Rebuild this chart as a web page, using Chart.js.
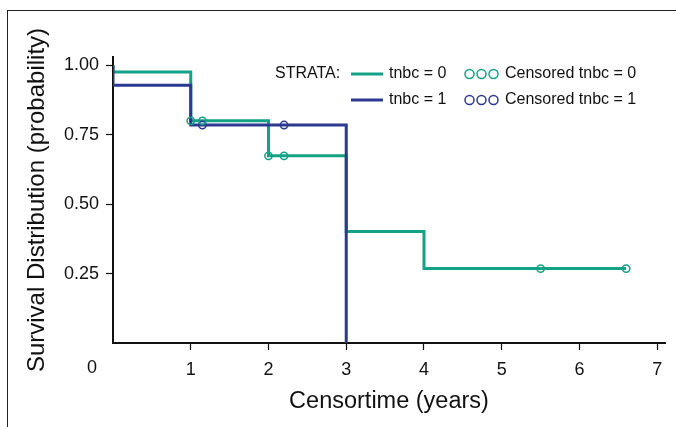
<!DOCTYPE html>
<html>
<head>
<meta charset="utf-8">
<script src="https://cdn.jsdelivr.net/npm/chart.js@4.4.1/dist/chart.umd.min.js"></script>
<style>
  body { margin: 0; background: #fff; }
  #wrap { position: relative; width: 676px; height: 427px; overflow: hidden; }
  #frame { position: absolute; left: 7px; top: 10px; width: 720px; height: 460px;
           border-top: 1.5px solid #222; border-left: 1.5px solid #222; pointer-events: none; }
</style>
</head>
<body>
<div id="wrap">
  <canvas id="km" width="676" height="427"></canvas>
  <div id="frame"></div>
</div>
<script>
// KM step curves
var time0 = [0, 0, 1, 2, 3, 4, 6.6];
var surv0 = [1, 0.976, 0.80, 0.674, 0.402, 0.268, 0.268];
var time1 = [0, 0, 1, 3];
var surv1 = [1, 0.928, 0.785, 0];

// censored marks
var cens0Time = [1.0, 1.15, 2.0, 2.2, 5.5, 6.6];
var cens0Surv = [0.80, 0.80, 0.674, 0.674, 0.268, 0.268];
var cens1Time = [1.15, 2.2];
var cens1Surv = [0.785, 0.785];

var xTicks = [0, 1, 2, 3, 4, 5, 6, 7];
var yTicks = [0.25, 0.50, 0.75, 1.00];
var strata = ["tnbc = 0", "tnbc = 1"];

var green = '#13a286';
var blue = '#2b3990';

function pts(xs, ys) {
  return xs.map(function (x, i) { return { x: x, y: ys[i] }; });
}

// custom legend + the odd "0" label left of the axis
var extras = {
  id: 'extras',
  afterDraw: function (chart) {
    var ctx = chart.ctx;
    var xs = chart.scales.x;
    ctx.save();
    // "0" tick label
    ctx.font = '18px "Liberation Sans"';
    ctx.fillStyle = '#111';
    ctx.textAlign = 'center';
    ctx.textBaseline = 'top';
    ctx.fillText('0', xs.getPixelForValue(0) - 21, xs.top + 7 + 9);

    // legend
    var cols = [green, blue];
    var rows = [74, 100];
    ctx.font = '16px "Liberation Sans"';
    ctx.textBaseline = 'middle';
    ctx.textAlign = 'left';
    ctx.fillText('STRATA:', 275, rows[0]);
    for (var i = 0; i < 2; i++) {
      var y = rows[i];
      ctx.strokeStyle = cols[i];
      ctx.lineWidth = 3;
      ctx.beginPath();
      ctx.moveTo(351, y);
      ctx.lineTo(383, y);
      ctx.stroke();
      ctx.fillStyle = '#111';
      ctx.fillText(strata[i], 389, y);
      ctx.lineWidth = 1.5;
      [469.5, 481.5, 493.5].forEach(function (cx) {
        ctx.beginPath();
        ctx.arc(cx, y, 4.5, 0, Math.PI * 2);
        ctx.stroke();
      });
      ctx.fillText('Censored ' + strata[i], 505, y);
    }
    ctx.restore();
  }
};

new Chart(document.getElementById('km'), {
  type: 'line',
  data: {
    datasets: [
      {
        label: 'Censored ' + strata[0],
        data: pts(cens0Time, cens0Surv),
        showLine: false,
        pointStyle: 'circle',
        pointRadius: 3.7,
        pointBorderWidth: 1.5,
        pointBorderColor: green,
        pointBackgroundColor: 'rgba(0,0,0,0)',
        order: 0
      },
      {
        label: 'Censored ' + strata[1],
        data: pts(cens1Time, cens1Surv),
        showLine: false,
        pointStyle: 'circle',
        pointRadius: 3.7,
        pointBorderWidth: 1.5,
        pointBorderColor: blue,
        pointBackgroundColor: 'rgba(0,0,0,0)',
        order: 0
      },
      {
        label: strata[1],
        data: pts(time1, surv1),
        stepped: 'before',
        borderColor: blue,
        borderWidth: 3,
        pointRadius: 0,
        fill: false,
        order: 1
      },
      {
        label: strata[0],
        data: pts(time0, surv0),
        stepped: 'before',
        borderColor: green,
        borderWidth: 3,
        pointRadius: 0,
        fill: false,
        order: 2
      }
    ]
  },
  options: {
    responsive: false,
    animation: false,
    layout: { padding: { top: 57, right: 11, left: 0, bottom: 0 } },
    plugins: { legend: { display: false }, tooltip: { enabled: false } },
    scales: {
      x: {
        type: 'linear',
        min: 0,
        max: 7.1,
        afterBuildTicks: function (s) { s.ticks = xTicks.map(function (v) { return { value: v }; }); },
        afterFit: function (s) { s.height = 84; },
        ticks: {
          padding: 9,
          color: '#111',
          maxRotation: 0,
          font: { family: '"Liberation Sans"', size: 18 },
          callback: function (v) { return v === 0 ? '' : String(v); }
        },
        grid: {
          drawOnChartArea: false,
          tickLength: 7,
          tickWidth: 1.2,
          tickColor: function (c) { return c.tick && c.tick.value === 0 ? 'rgba(0,0,0,0)' : '#111'; }
        },
        border: { color: '#111', width: 2 },
        title: {
          display: true,
          text: 'Censortime (years)',
          color: '#111',
          font: { family: '"Liberation Sans"', size: 23.5 },
          padding: { top: 0, bottom: 11 }
        }
      },
      y: {
        type: 'linear',
        min: 0,
        max: 1.03,
        afterBuildTicks: function (s) { s.ticks = yTicks.map(function (v) { return { value: v }; }); },
        afterFit: function (s) { s.width = 113; },
        ticks: {
          padding: 7,
          color: '#111',
          font: { family: '"Liberation Sans"', size: 18 },
          callback: function (v) { return v.toFixed(2); }
        },
        grid: {
          drawOnChartArea: false,
          tickLength: 7,
          tickWidth: 1.2,
          tickColor: '#111'
        },
        border: { color: '#111', width: 2 },
        title: {
          display: true,
          text: 'Survival Distribution (probability)',
          color: '#111',
          font: { family: '"Liberation Sans"', size: 24 },
          padding: { top: 23, bottom: 0 }
        }
      }
    }
  },
  plugins: [extras]
});
</script>
</body>
</html>
